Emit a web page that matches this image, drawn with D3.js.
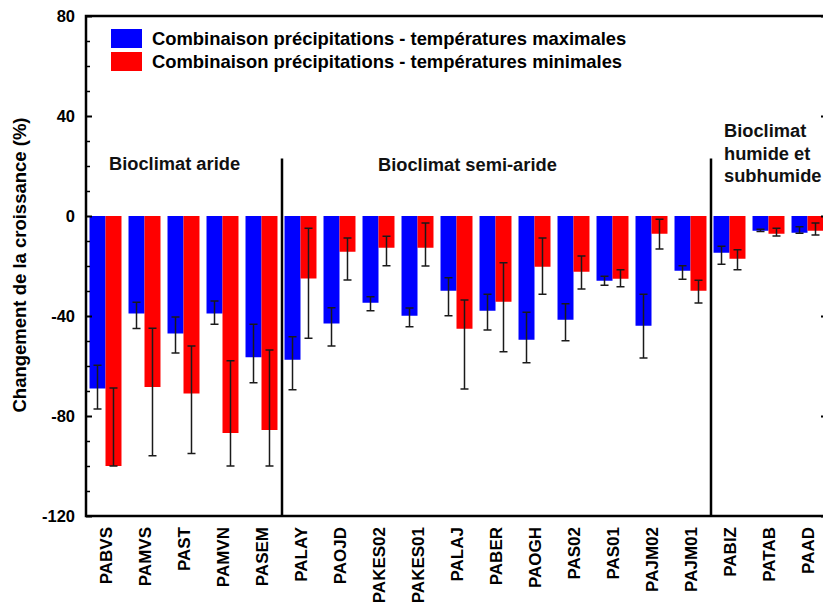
<!DOCTYPE html>
<html>
<head>
<meta charset="utf-8">
<script src="https://cdn.jsdelivr.net/npm/d3@7"></script>
<style>
  body { margin: 0; background: #fff; }
  svg { font-family: "Liberation Sans", Arial, sans-serif; font-weight: bold; }
</style>
</head>
<body>
<svg width="823" height="604"></svg>
<script>
const sites = ['PABVS', 'PAMVS', 'PAST', 'PAMVN', 'PASEM', 'PALAY', 'PAOJD', 'PAKES02', 'PAKES01',
  'PALAJ', 'PABER', 'PAOGH', 'PAS02', 'PAS01', 'PAJM02', 'PAJM01', 'PABIZ', 'PATAB', 'PAAD']

// precipitations - temperatures maximales (blue)
const maxVal = [-69, -39, -47, -39, -56.5, -57.5, -43, -34.7, -39.9, -29.9, -37.9, -49.5, -41.5, -25.9, -43.9, -21.9, -14.7, -5.9, -6.7]
const maxLo = [-77.2, -45, -54.8, -43.3, -66.7, -69.5, -52, -37.9, -44.3, -39.9, -45.6, -58.7, -49.9, -27.7, -56.8, -25.3, -19.3, -6.2, -6.9]
const maxHi = [-59.7, -34.5, -40.4, -34, -43.3, -48.3, -36.7, -32.3, -36.8, -24.7, -31.3, -38.5, -35.1, -24.1, -31.3, -19.9, -12.1, -5.3, -4.3]

// precipitations - temperatures minimales (red)
const minVal = [-100, -68.4, -71, -86.8, -85.6, -25, -14.3, -12.7, -12.7, -45.1, -34.3, -20.3, -22.3, -25.1, -7.1, -29.9, -17.1, -7.1, -5.9]
const minLo = [-100, -95.9, -95, -100, -100, -48.9, -25.6, -19.9, -20, -69.2, -54.3, -31.3, -29.2, -28.3, -13.2, -34.8, -21.5, -8, -7.6]
const minHi = [-68.8, -44.9, -52, -57.9, -53.6, -4.9, -8.8, -8.1, -2.8, -33.6, -18.7, -8.8, -16, -21.5, -1.3, -25.7, -13.5, -4.9, -2.8]

const seriesNames = ['Combinaison précipitations - températures maximales',
  'Combinaison précipitations - températures minimales']
const colors = ['#0000ff', '#ff0000']

const yTicks = [80, 40, 0, -40, -80, -120]
const groupEnds = ['PASEM', 'PAJM01'] // separators after these

const rows = sites.map((s, i) => ({
  site: s,
  vals: [
    { key: 0, v: maxVal[i], lo: maxLo[i], hi: maxHi[i] },
    { key: 1, v: minVal[i], lo: minLo[i], hi: minHi[i] }
  ]
}))

const svg = d3.select('svg')
const plotL = 86, plotR = 827, plotT = 16, plotB = 516

const x0 = d3.scaleBand()
  .domain(sites)
  .range([plotL, plotR])
  .paddingInner(0.18)
  .paddingOuter(0.09)

const x1 = d3.scaleBand()
  .domain([0, 1])
  .range([0, x0.bandwidth()])

const y = d3.scaleLinear()
  .domain([-120, 80])
  .range([plotB, plotT])

// bars
const g = svg.append('g')
  .selectAll('g')
  .data(rows)
  .join('g')
  .attr('transform', d => `translate(${x0(d.site)},0)`)

g.selectAll('rect')
  .data(d => d.vals)
  .join('rect')
  .attr('x', d => x1(d.key))
  .attr('width', x1.bandwidth())
  .attr('y', d => y(Math.max(0, d.v)))
  .attr('height', d => Math.abs(y(d.v) - y(0)))
  .attr('fill', d => colors[d.key])

// error bars
const eb = g.selectAll('g.err')
  .data(d => d.vals)
  .join('g')
  .attr('class', 'err')
  .attr('stroke', '#1a1a1a')
  .attr('stroke-width', 1.5)
eb.append('line')
  .attr('x1', d => x1(d.key) + x1.bandwidth() / 2)
  .attr('x2', d => x1(d.key) + x1.bandwidth() / 2)
  .attr('y1', d => y(d.lo))
  .attr('y2', d => y(d.hi))
eb.selectAll('line.cap')
  .data(d => [d.lo, d.hi].map(v => ({ key: d.key, v })))
  .join('line')
  .attr('class', 'cap')
  .attr('x1', d => x1(d.key) + x1.bandwidth() / 2 - 4)
  .attr('x2', d => x1(d.key) + x1.bandwidth() / 2 + 4)
  .attr('y1', d => y(d.v))
  .attr('y2', d => y(d.v))

// axes (plain hyphen for negatives, like the original)
const yAxis = svg.append('g')
  .attr('transform', `translate(${plotL},0)`)
  .call(d3.axisLeft(y).tickValues(yTicks).tickSize(-6).tickPadding(11).tickFormat(d => String(d)))
yAxis.select('.domain').remove()
yAxis.selectAll('line').attr('stroke-width', 2)
yAxis.selectAll('text').attr('font-size', 16.5).attr('fill', '#000')

const minorTicks = d3.range(-110, 80, 10).filter(v => v % 40 !== 0)
svg.append('g')
  .attr('transform', `translate(${plotL},0)`)
  .call(d3.axisLeft(y).tickValues(minorTicks).tickSize(-4).tickFormat(''))
  .call(a => a.select('.domain').remove())
  .selectAll('line').attr('stroke-width', 1.5)

svg.append('g')
  .attr('transform', `translate(${plotR},0)`)
  .call(d3.axisLeft(y).tickValues(yTicks).tickSize(6).tickFormat(''))
  .call(a => a.select('.domain').remove())
  .selectAll('line').attr('stroke-width', 2)

svg.append('rect')
  .attr('x', plotL).attr('y', plotT)
  .attr('width', plotR - plotL).attr('height', plotB - plotT)
  .attr('fill', 'none').attr('stroke', '#000').attr('stroke-width', 2.5)

// category labels
svg.append('g')
  .selectAll('text')
  .data(sites)
  .join('text')
  .attr('transform', d => `translate(${x0(d) + x0.bandwidth() / 2 + 6},${plotB + 11}) rotate(-90)`)
  .attr('text-anchor', 'end')
  .attr('font-size', 17)
  .text(d => d)

// separators between bioclimates
svg.append('g')
  .selectAll('line')
  .data(groupEnds)
  .join('line')
  .attr('x1', d => x0(d) + x0.step() * (1 - 0.09) + 1)
  .attr('x2', d => x0(d) + x0.step() * (1 - 0.09) + 1)
  .attr('y1', y(23))
  .attr('y2', plotB)
  .attr('stroke', '#000')
  .attr('stroke-width', 2.5)

const notes = svg.append('g').attr('font-size', 18.3).attr('fill', '#111')
notes.append('text').attr('x', 109).attr('y', 170).text('Bioclimat aride')
notes.append('text').attr('x', 378).attr('y', 171).text('Bioclimat semi-aride')
notes.append('text').attr('x', 724).attr('y', 137)
  .selectAll('tspan')
  .data(['Bioclimat', 'humide et', 'subhumide'])
  .join('tspan')
  .attr('x', 724)
  .attr('dy', (d, i) => i ? 22.5 : 0)
  .text(d => d)

// legend
const legend = svg.append('g')
  .selectAll('g')
  .data(seriesNames)
  .join('g')
  .attr('transform', (d, i) => `translate(111,${29 + i * 23})`)
legend.append('rect')
  .attr('width', 31).attr('height', 19)
  .attr('fill', (d, i) => colors[i])
legend.append('text')
  .attr('x', 41).attr('y', 16)
  .attr('font-size', 18.4)
  .text(d => d)

// y title
svg.append('text')
  .attr('transform', 'translate(26,265) rotate(-90)')
  .attr('text-anchor', 'middle')
  .attr('font-size', 18.5)
  .text('Changement de la croissance (%)')
</script>
</body>
</html>
